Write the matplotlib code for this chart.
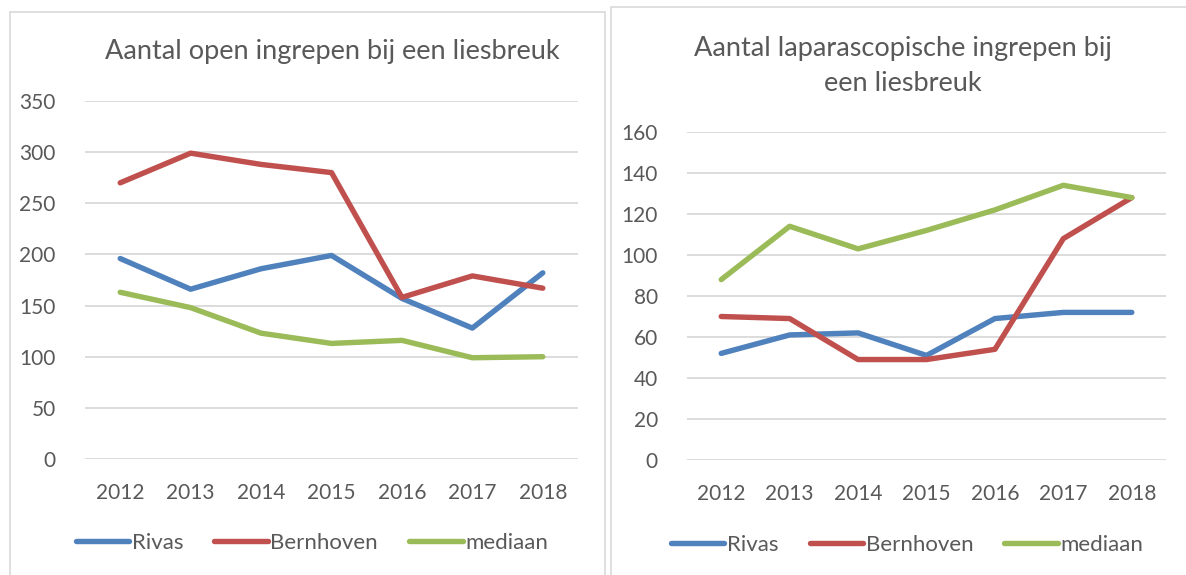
import matplotlib.pyplot as plt
from matplotlib.patches import Rectangle

plt.rcParams['font.family'] = ['Lato', 'DejaVu Sans']

# data
years = ['2012', '2013', '2014', '2015', '2016', '2017', '2018']

open_rivas = [196, 166, 186, 199, 157, 128, 182]
open_bernhoven = [270, 299, 288, 280, 158, 179, 167]
open_mediaan = [163, 148, 123, 113, 116, 99, 100]

lap_rivas = [52, 61, 62, 51, 69, 72, 72]
lap_bernhoven = [70, 69, 49, 49, 54, 108, 128]
lap_mediaan = [88, 114, 103, 112, 122, 134, 128]

series_names = ['Rivas', 'Bernhoven', 'mediaan']
colors = ['#4F81BD', '#C0504D', '#9BBB59']
text_col = '#595959'
grid_col = '#D9D9D9'

W, H = 1186, 575
fig = plt.figure(figsize=(W / 100, H / 100), dpi=100)

# panel borders
fig.patches.append(Rectangle((10 / W, -0.01), 595 / W, (H - 12) / H + 0.01,
                             transform=fig.transFigure, fill=False,
                             edgecolor='#D9D9D9', lw=1.2))
fig.patches.append(Rectangle((611 / W, -0.01), 600 / W, (H - 7) / H + 0.01,
                             transform=fig.transFigure, fill=False,
                             edgecolor='#D9D9D9', lw=1.2))


def make_panel(rect, data, ymax, step, title, title_xy, legend_xy):
    x0, y0, x1, y1 = rect
    ax = fig.add_axes([x0 / W, 1 - y1 / H, (x1 - x0) / W, (y1 - y0) / H])
    xs = range(len(years))
    for vals, name, c in zip(data, series_names, colors):
        ax.plot(xs, vals, color=c, lw=3.9, solid_capstyle='round',
                solid_joinstyle='round', label=name, zorder=3)
    ax.set_xlim(-0.5, len(years) - 0.5)
    ax.set_ylim(0, ymax)
    ax.set_yticks(range(0, ymax + 1, step))
    ax.set_xticks(list(xs))
    ax.set_xticklabels(years)
    ax.grid(axis='y', color=grid_col, lw=1.3)
    ax.set_axisbelow(True)
    for s in ax.spines.values():
        s.set_visible(False)
    ax.tick_params(length=0, colors=text_col, labelsize=15)
    ax.tick_params(axis='y', pad=21)
    ax.tick_params(axis='x', pad=17)
    ax.patch.set_alpha(0)
    fig.text(title_xy[0] / W, 1 - title_xy[1] / H, title, ha='center',
             va='center', fontsize=19.5, color=text_col, linespacing=1.5)
    leg = fig.legend(handles=ax.lines, loc='center',
                     bbox_to_anchor=(legend_xy[0] / W, 1 - legend_xy[1] / H),
                     ncol=3, frameon=False, fontsize=16, handlelength=2.4,
                     handletextpad=0.12, columnspacing=1.4)
    for t in leg.get_texts():
        t.set_color(text_col)
    return ax


make_panel((85, 101, 578, 459),
           [open_rivas, open_bernhoven, open_mediaan], 350, 50,
           'Aantal open ingrepen bij een liesbreuk', (332, 51), (312, 543))
make_panel((687, 132, 1166, 460),
           [lap_rivas, lap_bernhoven, lap_mediaan], 160, 20,
           'Aantal laparascopische ingrepen bij\neen liesbreuk', (903, 66),
           (907, 545))

fig.savefig('out.png', dpi=100)
